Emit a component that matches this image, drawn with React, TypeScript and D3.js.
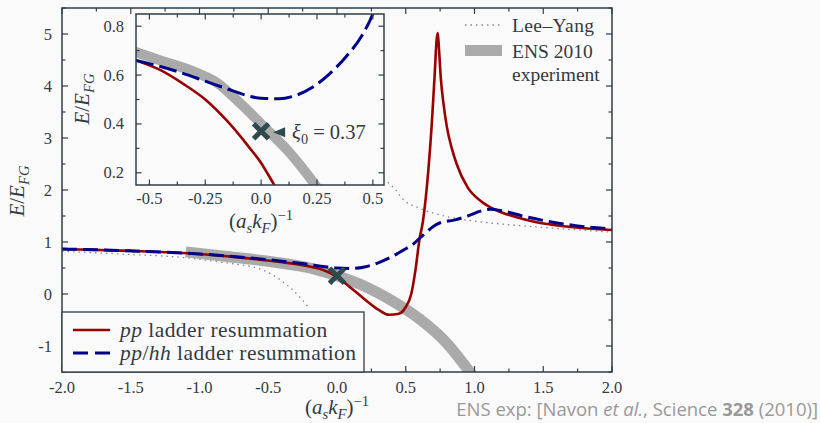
import React, { Component } from 'react';
import * as d3 from 'd3';

// ---- data ----
const mainXTicks = [-2.0, -1.5, -1.0, -0.5, 0.0, 0.5, 1.0, 1.5, 2.0];
const mainYTicks = [-1, 0, 1, 2, 3, 4, 5];
const insetXTicks = [-0.5, -0.25, 0.0, 0.25, 0.5];
const insetYTicks = [0.2, 0.4, 0.6, 0.8];

// pp ladder resummation (main)
const ppMain: [number, number][] = [
  [-2.0, 0.865], [-1.5, 0.83], [-1.0, 0.77], [-0.7, 0.7], [-0.4, 0.61], [-0.2, 0.53],
  [-0.1, 0.46], [0.0, 0.33], [0.1, 0.12], [0.2, -0.1], [0.3, -0.3], [0.38, -0.4],
  [0.45, -0.38], [0.5, -0.25], [0.54, 0.0], [0.57, 0.45], [0.6, 1.05], [0.625, 1.4],
  [0.665, 2.4], [0.69, 3.3], [0.71, 4.2], [0.725, 4.9], [0.733, 5.02], [0.742, 4.7],
  [0.755, 4.15], [0.775, 3.65], [0.8, 3.2], [0.835, 2.8], [0.87, 2.5], [0.95, 2.05],
  [1.05, 1.78], [1.15, 1.62], [1.3, 1.48], [1.45, 1.38], [1.7, 1.29], [2.0, 1.23]
];
// pp/hh ladder resummation (main)
const pphhMain: [number, number][] = [
  [-2.0, 0.865], [-1.5, 0.83], [-1.0, 0.77], [-0.5, 0.66], [-0.3, 0.6], [-0.1, 0.53],
  [0.0, 0.5], [0.1, 0.49], [0.2, 0.52], [0.3, 0.6], [0.4, 0.72], [0.5, 0.87],
  [0.55, 0.95], [0.6, 1.07], [0.65, 1.19], [0.7, 1.3], [0.75, 1.37], [0.85, 1.42],
  [0.95, 1.5], [1.05, 1.6], [1.12, 1.63], [1.2, 1.6], [1.35, 1.5], [1.55, 1.39],
  [1.75, 1.31], [2.0, 1.25]
];
// ENS 2010 experiment band (main)
const ensMain: [number, number][] = [
  [-1.1, 0.81], [-0.8, 0.72], [-0.5, 0.63], [-0.3, 0.55], [-0.15, 0.47], [0.0, 0.35],
  [0.2, 0.15], [0.4, -0.13], [0.6, -0.48], [0.8, -0.95], [0.98, -1.55]
];
// Lee-Yang, two branches
const leeYangNeg: [number, number][] = [
  [-2.0, 0.82], [-1.5, 0.76], [-1.07, 0.69], [-0.95, 0.65], [-0.83, 0.61], [-0.7, 0.56],
  [-0.58, 0.5], [-0.47, 0.37], [-0.34, 0.12], [-0.27, -0.06], [-0.21, -0.25]
];
const leeYangPos: [number, number][] = [
  [0.37, 2.15], [0.44, 1.96], [0.47, 1.85], [0.6, 1.65], [0.75, 1.52], [0.95, 1.42],
  [1.26, 1.33], [1.55, 1.27], [2.0, 1.19]
];
const xiMain: [number, number] = [0.0, 0.35];

// inset curves
const ppInset: [number, number][] = [
  [-0.56, 0.66], [-0.45, 0.62], [-0.35, 0.565], [-0.25, 0.5], [-0.15, 0.41],
  [-0.05, 0.3], [0.0, 0.24], [0.03, 0.195], [0.065, 0.14]
];
const pphhInset: [number, number][] = [
  [-0.56, 0.66], [-0.45, 0.635], [-0.36, 0.61], [-0.25, 0.575], [-0.14, 0.54],
  [-0.05, 0.513], [0.0, 0.505], [0.08, 0.503], [0.15, 0.515], [0.23, 0.55],
  [0.3, 0.6], [0.38, 0.675], [0.45, 0.76], [0.5, 0.85], [0.52, 0.9]
];
const ensInset: [number, number][] = [
  [-0.58, 0.7], [-0.45, 0.66], [-0.29, 0.61], [-0.2, 0.57], [-0.1, 0.49],
  [0.0, 0.4], [0.12, 0.29], [0.23, 0.165], [0.25, 0.14]
];
const xiInset: [number, number] = [0.0, 0.37];
const xiLabel = '0.37';

const BG = '#fafafa';
const FRAME = '#2f3e46';
const TXT = '#333b3f';
const RED = '#990000';
const BLUE = '#00008b';
const GREY = '#aaaaaa';
const DOT = '#888888';
const MARK = '#2f4a4d';
const SERIF = "'Liberation Serif', 'DejaVu Serif', serif";

type Seg = { t: string; it?: boolean; sub?: boolean; sup?: boolean };

function rich(sel: any, segs: Seg[], size: number) {
  let shift = 0;
  segs.forEach(s => {
    const target = s.sub ? size * 0.25 : s.sup ? -size * 0.38 : 0;
    sel.append('tspan')
      .attr('dy', target - shift)
      .style('font-size', (s.sub || s.sup ? size * 0.7 : size) + 'px')
      .style('font-style', s.it ? 'italic' : 'normal')
      .text(s.t);
    shift = target;
  });
}

const EoverE: Seg[] = [{ t: 'E', it: true }, { t: '/' }, { t: 'E', it: true }, { t: 'FG', it: true, sub: true }];
const askf: Seg[] = [
  { t: '(' }, { t: 'a', it: true }, { t: 's', it: true, sub: true }, { t: 'k', it: true },
  { t: 'F', it: true, sub: true }, { t: ')' }, { t: '\u22121', sup: true }
];

class App extends Component {
  chartRef = React.createRef<SVGSVGElement>();

  Graph() {
    document.body.style.margin = '0';
    document.body.style.background = BG;
    const svg = d3.select(this.chartRef.current);
    svg.selectAll('*').remove();

    // main panel
    const m = { left: 62, right: 612, top: 8, bottom: 372 };
    const x = d3.scaleLinear().domain([-2, 2]).range([m.left, m.right]);
    const y = d3.scaleLinear().domain([-1.5, 5.5]).range([m.bottom, m.top]);

    svg.append('defs').append('clipPath').attr('id', 'clipMain')
      .append('rect').attr('x', m.left).attr('y', m.top)
      .attr('width', m.right - m.left).attr('height', m.bottom - m.top);

    const line = (sx: any, sy: any) => d3.line<[number, number]>()
      .x(d => sx(d[0])).y(d => sy(d[1])).curve(d3.curveMonotoneX);

    const g = svg.append('g').attr('clip-path', 'url(#clipMain)');
    const lm = line(x, y);
    [leeYangNeg, leeYangPos].forEach(d => {
      g.append('path').attr('d', lm(d)).attr('fill', 'none').attr('stroke', DOT)
        .attr('stroke-width', 1.3).attr('stroke-dasharray', '1.5,4');
    });
    g.append('path').attr('d', lm(ensMain)).attr('fill', 'none').attr('stroke', GREY)
      .attr('stroke-width', 11);
    g.append('path').attr('d', lm(ppMain)).attr('fill', 'none').attr('stroke', RED)
      .attr('stroke-width', 2.6).attr('stroke-linejoin', 'round');
    g.append('path').attr('d', lm(pphhMain)).attr('fill', 'none').attr('stroke', BLUE)
      .attr('stroke-width', 3).attr('stroke-dasharray', '15,6');

    const cross = (sel: any, cx: number, cy: number) => {
      const r = 7.5;
      sel.append('path')
        .attr('d', `M${cx - r},${cy - r}L${cx + r},${cy + r}M${cx - r},${cy + r}L${cx + r},${cy - r}`)
        .attr('stroke', MARK).attr('stroke-width', 5);
    };
    cross(g, x(xiMain[0]), y(xiMain[1]));

    // axis ticks (inward on all four sides)
    const ticks = (sel: any, sx: any, sy: any, box: any, xMaj: number[], xMin: number[],
      yMaj: number[], yMin: number[], lMaj: number, lMin: number) => {
      const tg = sel.append('g').attr('stroke', FRAME).attr('stroke-width', 1.2);
      const xt = xMaj.map(v => [v, lMaj]).concat(xMin.map(v => [v, lMin]));
      const yt = yMaj.map(v => [v, lMaj]).concat(yMin.map(v => [v, lMin]));
      xt.forEach(([v, l]) => {
        const px = sx(v);
        tg.append('line').attr('x1', px).attr('x2', px).attr('y1', box.bottom).attr('y2', box.bottom - l);
        tg.append('line').attr('x1', px).attr('x2', px).attr('y1', box.top).attr('y2', box.top + l);
      });
      yt.forEach(([v, l]) => {
        const py = sy(v);
        tg.append('line').attr('y1', py).attr('y2', py).attr('x1', box.left).attr('x2', box.left + l);
        tg.append('line').attr('y1', py).attr('y2', py).attr('x1', box.right).attr('x2', box.right - l);
      });
      sel.append('rect').attr('x', box.left).attr('y', box.top)
        .attr('width', box.right - box.left).attr('height', box.bottom - box.top)
        .attr('fill', 'none').attr('stroke', FRAME).attr('stroke-width', 1.5);
    };
    ticks(svg, x, y, m, mainXTicks, d3.range(-1.75, 2, 0.5), mainYTicks,
      d3.range(-1.5, 5.6, 1), 6, 3.5);

    // tick labels
    const lab = svg.append('g').style('font-family', SERIF).style('font-size', '16.5px').attr('fill', TXT);
    mainXTicks.forEach(v => lab.append('text').attr('x', x(v)).attr('y', 393)
      .attr('text-anchor', 'middle').text(v.toFixed(1)));
    mainYTicks.forEach(v => lab.append('text').attr('x', 52).attr('y', y(v) + 5.5)
      .attr('text-anchor', 'end').text(String(v)));

    // axis labels
    const xl = svg.append('text').attr('x', 337).attr('y', 414).attr('text-anchor', 'middle')
      .style('font-family', SERIF).attr('fill', TXT);
    rich(xl, askf, 21);
    const yl = svg.append('text').attr('transform', 'translate(24,191) rotate(-90)')
      .attr('text-anchor', 'middle').style('font-family', SERIF).attr('fill', TXT);
    rich(yl, EoverE, 21);

    // lower-left legend
    svg.append('rect').attr('x', m.left).attr('y', 312).attr('width', 302).attr('height', 60)
      .attr('fill', BG).attr('stroke', FRAME).attr('stroke-width', 1.3);
    svg.append('line').attr('x1', 73).attr('x2', 110).attr('y1', 330).attr('y2', 330)
      .attr('stroke', RED).attr('stroke-width', 2.6);
    svg.append('line').attr('x1', 73).attr('x2', 110).attr('y1', 353).attr('y2', 353)
      .attr('stroke', BLUE).attr('stroke-width', 3).attr('stroke-dasharray', '15,7');
    const l1 = svg.append('text').attr('x', 120).attr('y', 337).style('font-family', SERIF)
      .style('letter-spacing', '0.45px').attr('fill', TXT);
    rich(l1, [{ t: 'pp', it: true }, { t: ' ladder resummation' }], 21.5);
    const l2 = svg.append('text').attr('x', 120).attr('y', 360).style('font-family', SERIF)
      .style('letter-spacing', '0.45px').attr('fill', TXT);
    rich(l2, [{ t: 'pp', it: true }, { t: '/' }, { t: 'hh', it: true }, { t: ' ladder resummation' }], 21.5);

    // upper-right legend
    svg.append('line').attr('x1', 465).attr('x2', 501).attr('y1', 25).attr('y2', 25)
      .attr('stroke', DOT).attr('stroke-width', 1.3).attr('stroke-dasharray', '1.5,4');
    svg.append('rect').attr('x', 465).attr('y', 45).attr('width', 37).attr('height', 11).attr('fill', GREY);
    const rl = svg.append('g').style('font-family', SERIF).style('font-size', '19.5px').attr('fill', TXT);
    rl.append('text').attr('x', 512).attr('y', 32).style('letter-spacing', '0.4px').text('Lee\u2013Yang');
    rl.append('text').attr('x', 512).attr('y', 58).text('ENS 2010');
    rl.append('text').attr('x', 512).attr('y', 81).text('experiment');

    // caption
    const cap = svg.append('text').attr('x', 818).attr('y', 416).attr('text-anchor', 'end')
      .style('font-family', "'Open Sans', sans-serif").style('font-size', '18.5px').attr('fill', '#999999');
    cap.append('tspan').text('ENS exp: [Navon ');
    cap.append('tspan').style('font-style', 'italic').text('et al.');
    cap.append('tspan').text(', Science ');
    cap.append('tspan').style('font-weight', 'bold').text('328');
    cap.append('tspan').text(' (2010)]');

    // ---- inset ----
    const n = { left: 136, right: 384, top: 14, bottom: 185 };
    const xi = d3.scaleLinear().domain([-0.56, 0.55]).range([n.left, n.right]);
    const yi = d3.scaleLinear().domain([0.15, 0.85]).range([n.bottom, n.top]);
    svg.append('rect').attr('x', n.left).attr('y', n.top).attr('width', n.right - n.left)
      .attr('height', n.bottom - n.top).attr('fill', BG);
    svg.select('defs').append('clipPath').attr('id', 'clipInset')
      .append('rect').attr('x', n.left).attr('y', n.top)
      .attr('width', n.right - n.left).attr('height', n.bottom - n.top);
    const gi = svg.append('g').attr('clip-path', 'url(#clipInset)');
    const li = line(xi, yi);
    gi.append('path').attr('d', li(ensInset)).attr('fill', 'none').attr('stroke', GREY).attr('stroke-width', 10);
    gi.append('path').attr('d', li(ppInset)).attr('fill', 'none').attr('stroke', RED).attr('stroke-width', 2.6);
    gi.append('path').attr('d', li(pphhInset)).attr('fill', 'none').attr('stroke', BLUE)
      .attr('stroke-width', 3).attr('stroke-dasharray', '18,6');
    const cx = xi(xiInset[0]), cy = yi(xiInset[1]);
    cross(gi, cx, cy);
    gi.append('path').attr('d', `M${cx + 12},${cy + 1}L${cx + 24},${cy - 4}L${cx + 24},${cy + 6}Z`).attr('fill', MARK);
    const xt = gi.append('text').attr('x', cx + 31).attr('y', cy + 8).style('font-family', SERIF).attr('fill', TXT);
    rich(xt, [{ t: '\u03be', it: true }, { t: '0', sub: true }, { t: ' = ' + xiLabel }], 20.5);

    ticks(svg, xi, yi, n, insetXTicks, d3.range(-0.375, 0.5, 0.25), insetYTicks,
      d3.range(0.3, 0.8, 0.2), 5.5, 3.5);
    const ilab = svg.append('g').style('font-family', SERIF).style('font-size', '16.5px').attr('fill', TXT);
    insetXTicks.forEach(v => ilab.append('text').attr('x', xi(v)).attr('y', 204)
      .attr('text-anchor', 'middle').text(v === 0 || Math.abs(v) === 0.5 ? v.toFixed(1) : String(v)));
    insetYTicks.forEach(v => ilab.append('text').attr('x', 124).attr('y', yi(v) + 5.5)
      .attr('text-anchor', 'end').text(v.toFixed(1)));
    const ixl = svg.append('text').attr('x', 261).attr('y', 228).attr('text-anchor', 'middle')
      .style('font-family', SERIF).attr('fill', TXT);
    rich(ixl, askf, 21);
    const iyl = svg.append('text').attr('transform', 'translate(89,99) rotate(-90)')
      .attr('text-anchor', 'middle').style('font-family', SERIF).attr('fill', TXT);
    rich(iyl, EoverE, 21);
  }

  componentDidMount() {
    this.Graph();
  }

  componentDidUpdate() {
    this.Graph();
  }

  render() {
    return <svg width={820} height={423} ref={this.chartRef} style={{ display: 'block', background: BG }} />;
  }
}

export default App;
